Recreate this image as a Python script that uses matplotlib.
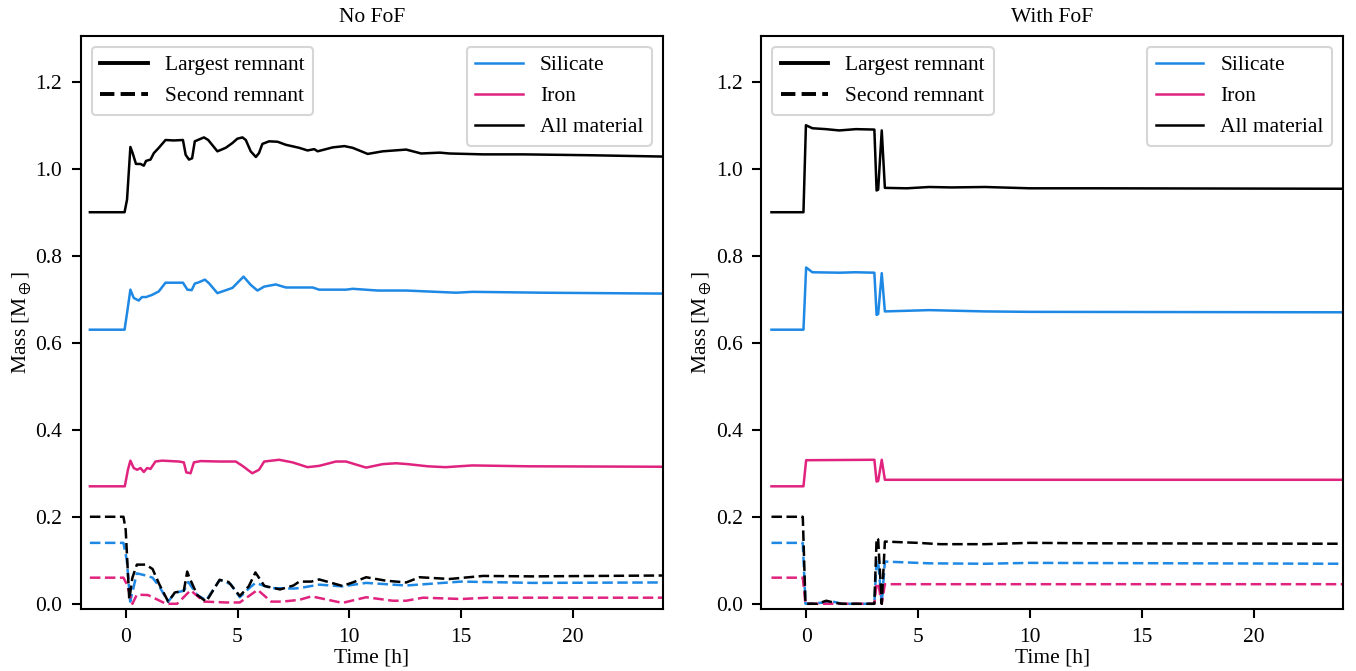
import numpy as np
import matplotlib
matplotlib.use('Agg')
import matplotlib.pyplot as plt
from matplotlib.lines import Line2D

plt.rcParams['font.family'] = ['Liberation Serif', 'DejaVu Serif']
plt.rcParams['mathtext.fontset'] = 'stix'
plt.rcParams['font.size'] = 15.5

col_sil = '#1E88E5'
col_fe = '#E0237E'
col_all = 'black'

# ---- No FoF : largest remnant ----
nofof_all_t = [-1.6, -0.05, 0.06, 0.21, 0.31, 0.46, 0.66, 0.81, 0.91, 1.11, 1.26, 1.48, 1.78, 2.15, 2.56,
               2.68, 2.83, 2.97, 3.09, 3.27, 3.50, 3.69, 4.10, 4.47, 4.77, 4.99, 5.22, 5.37, 5.59, 5.82,
               5.96, 6.11, 6.41, 6.79, 7.16, 7.76, 8.13, 8.43, 8.58, 9.25, 9.78, 10.15, 10.82, 11.49,
               12.54, 13.21, 14.04, 14.48, 15.98, 17.77, 20.76, 24.0]
nofof_all = [0.90, 0.90, 0.929, 1.050, 1.036, 1.011, 1.011, 1.007, 1.018, 1.021, 1.036, 1.048, 1.066, 1.065,
             1.066, 1.032, 1.021, 1.024, 1.063, 1.067, 1.072, 1.066, 1.040, 1.048, 1.059, 1.069, 1.072,
             1.066, 1.040, 1.027, 1.036, 1.057, 1.063, 1.062, 1.055, 1.048, 1.042, 1.045, 1.040, 1.049,
             1.052, 1.048, 1.034, 1.040, 1.044, 1.035, 1.037, 1.035, 1.033, 1.033, 1.031, 1.028]

nofof_sil_t = [-1.6, -0.05, 0.06, 0.21, 0.36, 0.58, 0.73, 0.91, 1.18, 1.48, 1.78, 2.23, 2.56, 2.76, 2.95,
               3.09, 3.27, 3.54, 3.72, 4.10, 4.77, 5.27, 5.59, 5.89, 6.19, 6.71, 7.16, 8.36, 8.65, 9.85,
               10.15, 11.27, 12.54, 14.78, 15.5, 18.67, 24.0]
nofof_sil = [0.63, 0.63, 0.668, 0.722, 0.703, 0.697, 0.705, 0.705, 0.710, 0.718, 0.738, 0.738, 0.738, 0.722,
             0.721, 0.736, 0.739, 0.745, 0.737, 0.714, 0.726, 0.752, 0.733, 0.720, 0.729, 0.734, 0.727,
             0.727, 0.722, 0.722, 0.724, 0.720, 0.720, 0.715, 0.717, 0.715, 0.713]

nofof_fe_t = [-1.6, -0.04, 0.10, 0.21, 0.36, 0.51, 0.66, 0.81, 0.96, 1.11, 1.33, 1.63, 2.38, 2.60, 2.71,
              2.90, 3.05, 3.35, 4.17, 4.92, 5.22, 5.66, 5.96, 6.19, 6.86, 7.46, 8.13, 8.65, 9.40, 9.85,
              10.75, 11.49, 12.09, 12.61, 13.5, 14.3, 15.5, 18.0, 24.0]
nofof_fe = [0.27, 0.27, 0.308, 0.329, 0.312, 0.308, 0.312, 0.303, 0.312, 0.310, 0.327, 0.329, 0.327, 0.325,
            0.302, 0.300, 0.325, 0.328, 0.327, 0.327, 0.317, 0.300, 0.308, 0.327, 0.331, 0.325, 0.314,
            0.317, 0.327, 0.327, 0.313, 0.321, 0.323, 0.321, 0.316, 0.314, 0.318, 0.316, 0.315]

# ---- No FoF : second remnant ----
nofof_all2_t = [-1.6, -0.1, 0.0, 0.16, 0.3, 0.5, 0.9, 1.2, 1.5, 1.9, 2.2, 2.6, 2.75, 2.85, 3.2, 3.6, 4.2,
                4.6, 5.1, 5.5, 5.8, 6.2, 6.9, 7.5, 7.76, 8.3, 8.65, 9.69, 10.15, 10.75, 11.64, 12.54,
                13.14, 14.48, 15.98, 18.2, 24.0]
nofof_all2 = [0.20, 0.20, 0.17, 0.01, 0.06, 0.09, 0.09, 0.08, 0.045, 0.005, 0.026, 0.03, 0.074, 0.06, 0.02,
              0.005, 0.055, 0.05, 0.018, 0.04, 0.072, 0.041, 0.033, 0.042, 0.051, 0.051, 0.056, 0.041,
              0.049, 0.061, 0.053, 0.049, 0.061, 0.057, 0.064, 0.063, 0.065]

nofof_sil2_t = [-1.6, -0.1, 0.05, 0.2, 0.5, 0.9, 1.2, 1.5, 1.9, 2.2, 2.6, 2.8, 3.2, 3.6, 4.2, 4.7, 5.1, 5.5,
                5.8, 6.5, 7.5, 7.76, 8.65, 9.69, 10.75, 12.54, 15.0, 18.2, 24.0]
nofof_sil2 = [0.14, 0.14, 0.10, 0.005, 0.07, 0.065, 0.06, 0.04, 0.005, 0.025, 0.03, 0.05, 0.02, 0.008, 0.055,
              0.045, 0.015, 0.035, 0.048, 0.036, 0.035, 0.036, 0.044, 0.040, 0.048, 0.042, 0.051, 0.048,
              0.049]

nofof_fe2_t = [-1.6, -0.1, 0.05, 0.3, 0.5, 1.0, 1.2, 1.8, 2.3, 2.9, 3.5, 4.5, 5.1, 5.9, 6.5, 7.0, 7.76, 8.3,
               8.5, 9.69, 10.75, 11.94, 12.54, 13.3, 15.0, 16.2, 24.0]
nofof_fe2 = [0.06, 0.06, 0.045, 0.0, 0.021, 0.02, 0.015, 0.0, 0.0, 0.031, 0.005, 0.003, 0.003, 0.032, 0.005,
             0.005, 0.009, 0.017, 0.015, 0.002, 0.015, 0.007, 0.007, 0.014, 0.011, 0.014, 0.014]

# ---- With FoF : largest remnant ----
fof_all_t = [-1.55, -0.12, -0.01, 0.28, 0.88, 1.48, 2.23, 3.05, 3.15, 3.22, 3.38, 3.52, 4.5, 5.5, 6.5, 8.0,
             10.0, 13.0, 24.0]
fof_all = [0.90, 0.90, 1.100, 1.093, 1.091, 1.088, 1.091, 1.090, 0.950, 0.952, 1.088, 0.956, 0.955, 0.958,
           0.957, 0.958, 0.955, 0.955, 0.954]

fof_sil_t = [-1.55, -0.12, 0.0, 0.28, 1.5, 2.2, 3.05, 3.15, 3.22, 3.38, 3.52, 5.5, 8.0, 10.0, 24.0]
fof_sil = [0.63, 0.63, 0.773, 0.762, 0.761, 0.762, 0.761, 0.664, 0.666, 0.760, 0.672, 0.675, 0.672, 0.671,
           0.670]

fof_fe_t = [-1.55, -0.12, 0.0, 3.05, 3.15, 3.22, 3.38, 3.52, 24.0]
fof_fe = [0.27, 0.27, 0.33, 0.331, 0.281, 0.282, 0.331, 0.285, 0.285]

# ---- With FoF : second remnant ----
fof_all2_t = [-1.55, -0.15, -0.03, 0.5, 0.9, 1.3, 1.6, 3.05, 3.15, 3.22, 3.38, 3.52, 5.0, 6.0, 8.0, 10.0,
              13.0, 24.0]
fof_all2 = [0.20, 0.20, 0.0, 0.0, 0.007, 0.002, 0.0, 0.0, 0.151, 0.148, 0.0, 0.143, 0.140, 0.137, 0.137,
            0.140, 0.139, 0.138]

fof_sil2_t = [-1.55, -0.15, -0.03, 0.9, 1.2, 1.6, 3.05, 3.15, 3.22, 3.38, 3.52, 5.5, 8.0, 10.0, 24.0]
fof_sil2 = [0.14, 0.14, 0.0, 0.003, 0.005, 0.0, 0.0, 0.100, 0.098, 0.0, 0.097, 0.093, 0.092, 0.094, 0.092]

fof_fe2_t = [-1.55, -0.15, -0.03, 3.05, 3.15, 3.22, 3.38, 3.52, 24.0]
fof_fe2 = [0.06, 0.06, 0.0, 0.0, 0.047, 0.047, 0.0, 0.045, 0.045]

panels = [
    ('No FoF', (nofof_sil_t, nofof_sil), (nofof_fe_t, nofof_fe), (nofof_all_t, nofof_all),
     (nofof_sil2_t, nofof_sil2), (nofof_fe2_t, nofof_fe2), (nofof_all2_t, nofof_all2)),
    ('With FoF', (fof_sil_t, fof_sil), (fof_fe_t, fof_fe), (fof_all_t, fof_all),
     (fof_sil2_t, fof_sil2), (fof_fe2_t, fof_fe2), (fof_all2_t, fof_all2)),
]


def main():
    fig, axes = plt.subplots(1, 2, figsize=(13.56, 6.71), dpi=100)
    fig.subplots_adjust(left=0.0597, right=0.9904, top=0.9463, bottom=0.0924, wspace=0.170)

    for ax, (title, sil, fe, al, sil2, fe2, al2) in zip(axes, panels):
        ax.plot(*sil, color=col_sil, lw=1.8)
        ax.plot(*fe, color=col_fe, lw=1.8)
        ax.plot(*al, color=col_all, lw=1.8)
        ax.plot(*sil2, color=col_sil, lw=1.8, ls=(0, (4.2, 1.8)))
        ax.plot(*fe2, color=col_fe, lw=1.8, ls=(0, (4.2, 1.8)))
        ax.plot(*al2, color=col_all, lw=1.8, ls=(0, (4.2, 1.8)))

        ax.set_xlim(-2, 24)
        ax.set_ylim(-0.012, 1.305)
        ax.set_xticks([0, 5, 10, 15, 20])
        ax.set_yticks(np.arange(0, 1.21, 0.2))
        ax.set_title(title, fontsize=15.5, pad=10)
        ax.set_xlabel('Time [h]', labelpad=1)
        ax.set_ylabel(r'Mass [M$_\oplus$]', labelpad=1.2)
        ax.tick_params(length=6.5, width=1.5, pad=7)
        for sp in ax.spines.values():
            sp.set_linewidth(1.5)

        h1 = [Line2D([], [], color='black', lw=2.8, ls='-'),
              Line2D([], [], color='black', lw=2.8, ls='--')]
        leg1 = ax.legend(h1, ['Largest remnant', 'Second remnant'], loc='upper left', handlelength=2.2)
        leg1.get_frame().set_linewidth(1.5)
        ax.add_artist(leg1)
        h2 = [Line2D([], [], color=col_sil, lw=1.8),
              Line2D([], [], color=col_fe, lw=1.8),
              Line2D([], [], color=col_all, lw=1.8)]
        leg2 = ax.legend(h2, ['Silicate', 'Iron', 'All material'], loc='upper right', handlelength=2.2)
        leg2.get_frame().set_linewidth(1.5)

    plt.savefig('out.png', dpi=100)
    plt.close(fig)


if __name__ == '__main__':
    main()
